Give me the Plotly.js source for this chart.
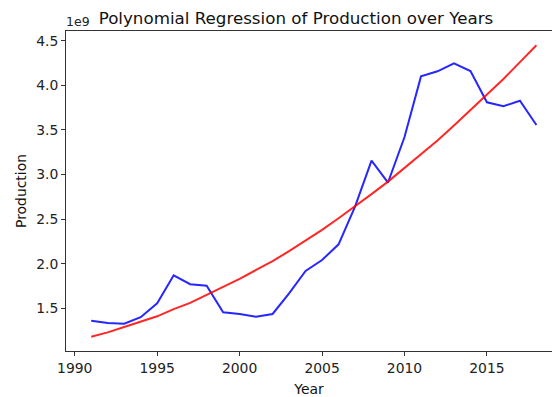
<!DOCTYPE html>
<html>
<head>
<meta charset="utf-8">
<script src="https://cdn.plot.ly/plotly-3.0.1.min.js"></script>
<style>
  html, body { margin: 0; padding: 0; background: #ffffff; }
  #chart { width: 552px; height: 397px; }
</style>
</head>
<body>
<div id="chart"></div>
<script>
// Years covered by the series
const years = [1991, 1992, 1993, 1994, 1995, 1996, 1997, 1998, 1999, 2000,
               2001, 2002, 2003, 2004, 2005, 2006, 2007, 2008, 2009, 2010,
               2011, 2012, 2013, 2014, 2015, 2016, 2017, 2018];

// Actual production, in units of 1e9
const production = [1.36, 1.335, 1.327, 1.40, 1.556, 1.87, 1.77, 1.753, 1.455, 1.436,
                    1.405, 1.436, 1.668, 1.918, 2.041, 2.217, 2.64, 3.155, 2.91, 3.42,
                    4.10, 4.157, 4.247, 4.16, 3.81, 3.765, 3.827, 3.555];

// Polynomial regression fit, in units of 1e9
const fitted = [1.18, 1.23, 1.29, 1.35, 1.41, 1.49, 1.56, 1.65, 1.74, 1.83,
                1.93, 2.03, 2.14, 2.26, 2.38, 2.51, 2.64, 2.78, 2.92, 3.07,
                3.22, 3.38, 3.55, 3.72, 3.89, 4.07, 4.26, 4.45];

const FONT = 'DejaVu Sans, sans-serif';
const TICK_SIZE = 13.9;
const TITLE_SIZE = 16.7;

const traces = [
  {
    x: years, y: production, type: 'scatter', mode: 'lines',
    line: { color: 'rgba(0,0,255,0.85)', width: 2 },
    name: 'Production', hoverinfo: 'skip'
  },
  {
    x: years, y: fitted, type: 'scatter', mode: 'lines',
    line: { color: 'rgba(255,0,0,0.85)', width: 2 },
    name: 'Polynomial fit', hoverinfo: 'skip'
  }
];

const axisCommon = {
  showgrid: false, zeroline: false,
  showline: true, linecolor: '#333333', linewidth: 1,
  ticks: 'outside', ticklen: 4, tickwidth: 1, tickcolor: '#333333',
  tickfont: { family: FONT, size: TICK_SIZE, color: '#222222' }
};

const layout = {
  width: 552, height: 397,
  margin: { l: 66, r: 0, t: 31, b: 46 },
  paper_bgcolor: '#ffffff', plot_bgcolor: '#ffffff',
  showlegend: false,
  title: {
    text: 'Polynomial Regression of Production over Years',
    font: { family: FONT, size: TITLE_SIZE, color: '#111111' },
    xref: 'container', x: 296 / 552, xanchor: 'center',
    yref: 'container', y: 1 - 18 / 397, yanchor: 'middle'
  },
  xaxis: Object.assign({}, axisCommon, {
    range: [1989.47, 2018.945],
    tick0: 1990, dtick: 5,
    mirror: true,
    title: { text: 'Year', font: { family: FONT, size: TICK_SIZE, color: '#111111' }, standoff: 9 }
  }),
  yaxis: Object.assign({}, axisCommon, {
    range: [1.021, 4.609],
    tick0: 0, dtick: 0.5, tickformat: '.1f',
    title: { text: 'Production', font: { family: FONT, size: TICK_SIZE, color: '#111111' }, standoff: 6 }
  }),
  annotations: [
    {
      // scale factor shown above the y axis
      text: '1e9', xref: 'paper', yref: 'paper', x: 0, y: 1,
      xanchor: 'left', yanchor: 'bottom', showarrow: false, xshift: -2,
      font: { family: FONT, size: 12.5, color: '#222222' }
    }
  ]
};

Plotly.newPlot('chart', traces, layout, { staticPlot: true, displayModeBar: false });
</script>
</body>
</html>
